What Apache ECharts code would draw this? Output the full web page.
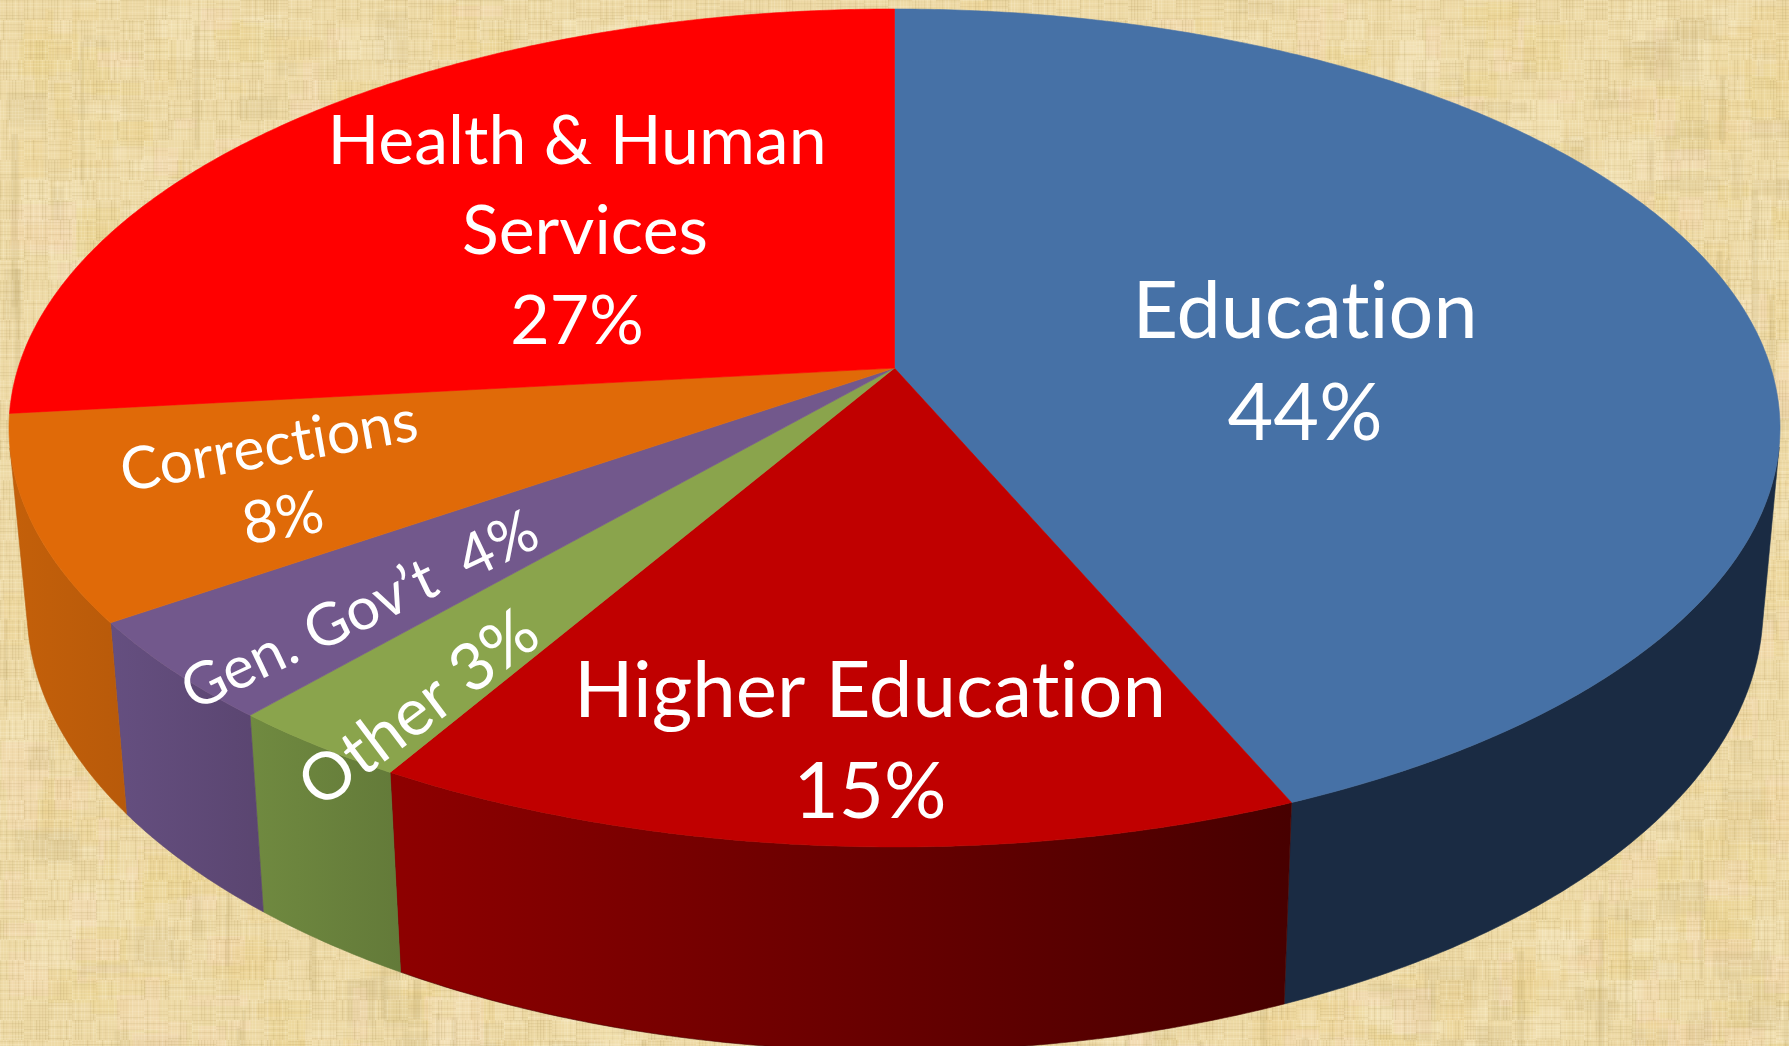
<!DOCTYPE html>
<html>
<head>
<meta charset="utf-8">
<style>html,body{margin:0;padding:0;background:#e8d5a0;overflow:hidden}#chart{width:1789px;height:1046px}</style>
<script src="https://cdn.jsdelivr.net/npm/echarts@6/dist/echarts.min.js"></script>
</head>
<body>
<div id="chart"></div>
<script>
// ---- data (the printed percentages total 101) ----
const categories = ['Education', 'Higher Education', 'Other', 'Gen. Gov\u2019t', 'Corrections', 'Health & Human Services'];
const shares = [44, 15, 3, 4, 8, 27];
const labelLines = [
  ['Education', '44%'],
  ['Higher Education', '15%'],
  ['Other 3%'],
  ['Gen. Gov\u2019t  4%'],
  ['Corrections', '8%'],
  ['Health & Human', 'Services', '27%']
];

// ---- styles ----
const topColors = ['#4671a6', '#c00000', '#8aa44c', '#72588c', '#e06a08', '#ff0000'];
const wallColors = [
  ['#1a2b43', '#1a2b43'], ['#8e0000', '#470000'], ['#708a40', '#637a39'],
  ['#654f80', '#5a4570'], ['#c4600a', '#b85a0a'], ['#b00000', '#b00000']
];
// text blocks: one entry per line [x, y], font size, rotation in degrees
const labelLayout = [
  { size: 79, rot: 0,   at: [[1305, 313], [1305, 415]] },
  { size: 78, rot: 0,   at: [[870, 692], [870, 793]] },
  { size: 66, rot: 37,  at: [[419, 709]] },
  { size: 59, rot: 25.5, at: [[360, 611]] },
  { size: 59, rot: 10,  at: [[269, 447], [283, 519]] },
  { size: 68, rot: 0,   at: [[577, 142], [585, 232], [577, 322]] }
];
// projected disc geometry
const topDisc = { cx: 894.5, cy: 428, a: 885.5, b: 419 };
const baseDisc = { cx: 895, cy: 608, a: 868, b: 443 };
const tilt = 0.143; // how far perspective moves the pie centre from the ellipse centre

const total = shares.reduce((s, v) => s + v, 0);
const edges = [0];
shares.forEach((v, i) => edges.push(edges[i] + v / total));

function rim(frac, disc) {
  const t = frac * 2 * Math.PI;
  const u = Math.sin(t), v = -Math.cos(t), d = 1 - tilt * v;
  return [disc.cx + disc.a * u * Math.sqrt(1 - tilt * tilt) / d,
          disc.cy + disc.b * (v - tilt) / d];
}
const apex = [topDisc.cx, topDisc.cy - tilt * topDisc.b];

// the part of the rim whose outer wall faces the viewer
function facing(f) {
  const e = 1e-4, p = rim(f, topDisc), q = rim(f, baseDisc);
  const a = rim(f - e, topDisc), b = rim(f + e, topDisc);
  return (q[0] - p[0]) * (b[1] - a[1]) - (q[1] - p[1]) * (b[0] - a[0]) > 0;
}
let wallFrom = 0, wallTo = 1;
for (let f = 0.001; f < 0.5; f += 0.0002) { if (facing(f)) { wallFrom = f; break; } }
for (let f = 0.999; f > 0.5; f -= 0.0002) { if (facing(f)) { wallTo = f; break; } }

function arc(from, to, disc) {
  const n = Math.max(2, Math.ceil((to - from) * 720)), pts = [];
  for (let i = 0; i <= n; i++) pts.push(rim(from + (to - from) * i / n, disc));
  return pts;
}

function renderWall(params) {
  const i = params.dataIndex;
  const from = Math.max(edges[i], wallFrom), to = Math.min(edges[i + 1], wallTo);
  if (to <= from) return null;
  return {
    type: 'polygon',
    shape: { points: arc(from, to, topDisc).concat(arc(from, to, baseDisc).reverse()) },
    style: {
      fill: { type: 'linear', x: 0, y: 0, x2: 1, y2: 0, colorStops: [
        { offset: 0, color: wallColors[i][0] }, { offset: 1, color: wallColors[i][1] }] },
      stroke: wallColors[i][1], lineWidth: 0.6
    }
  };
}
function renderTop(params) {
  const i = params.dataIndex;
  return {
    type: 'polygon',
    shape: { points: [apex].concat(arc(edges[i], edges[i + 1], topDisc)) },
    style: { fill: topColors[i], stroke: topColors[i], lineWidth: 0.6 }
  };
}
function renderLabel(params) {
  const i = params.dataIndex, lay = labelLayout[i];
  return {
    type: 'group',
    children: labelLines[i].map((line, j) => ({
      type: 'text',
      x: lay.at[j][0], y: lay.at[j][1],
      rotation: lay.rot * Math.PI / 180,
      style: { text: line, fill: '#ffffff', align: 'center', verticalAlign: 'middle',
               font: lay.size + 'px Lato, "Open Sans", sans-serif' }
    }))
  };
}

// ---- woven tan paper background (deterministic hash, decoration only) ----
function hash(a, b) { const s = Math.sin(a * 12.9898 + b * 78.233) * 43758.5453; return s - Math.floor(s); }
function paper(w, h) {
  const c = document.createElement('canvas'); c.width = w; c.height = h;
  const g = c.getContext('2d');
  g.fillStyle = '#eedaa6'; g.fillRect(0, 0, w, h);
  const tints = ['rgba(244,218,180,.45)', 'rgba(234,212,146,.4)', 'rgba(222,200,150,.35)', 'rgba(244,228,186,.45)', 'rgba(238,212,150,.4)'];
  for (let k = 0; k < 1800; k++) {
    const x = hash(k, 1) * w, y = hash(k, 2) * h, pw = 10 + hash(k, 3) * 50, ph = 10 + hash(k, 4) * 45;
    g.fillStyle = tints[Math.floor(hash(k, 5) * tints.length)];
    g.fillRect(x, y, pw, ph);
  }
  for (let x = 0; x < w; x += 3) {
    for (let y = 0; y < h; y += 20) {
      const r = hash(Math.floor(x / 3), Math.floor(y / 20) + 7);
      g.fillStyle = r > 0.5 ? 'rgba(175,150,90,' + (0.03 + (r - 0.5) * 0.36) + ')' : 'rgba(255,248,225,' + (0.06 + r * 0.34) + ')';
      g.fillRect(x, y, 1.2, 20);
    }
  }
  for (let y = 0; y < h; y += 3) {
    for (let x = 0; x < w; x += 24) {
      const r = hash(Math.floor(y / 3) + 31, Math.floor(x / 24));
      g.fillStyle = r > 0.5 ? 'rgba(175,150,90,' + (0.03 + (r - 0.5) * 0.3) + ')' : 'rgba(255,248,225,' + (0.05 + r * 0.3) + ')';
      g.fillRect(x, y, 24, 1.2);
    }
  }
  for (let k = 0; k < 90; k++) {
    const x = hash(k, 11) * w, y = hash(k, 12) * h, len = 50 + hash(k, 13) * 150;
    g.fillStyle = 'rgba(170,148,85,.13)';
    g.fillRect(x, y, 3 + hash(k, 14) * 5, len);
  }
  return c;
}

// the reference has separate letters ("ti"): a tiny letter spacing switches off the font's ligatures
const drawText = CanvasRenderingContext2D.prototype.fillText;
CanvasRenderingContext2D.prototype.fillText = function (...args) {
  this.letterSpacing = '0.01px';
  return drawText.apply(this, args);
};

const rows = categories.map((name, i) => ({ name, value: shares[i] }));
const custom = (renderItem, z) => ({
  type: 'custom', coordinateSystem: 'none', renderItem, data: rows, z, silent: true, animation: false
});
const chart = echarts.init(document.getElementById('chart'), null, { renderer: 'canvas', width: 1789, height: 1046 });
chart.setOption({
  animation: false,
  backgroundColor: { image: paper(1789, 1046), repeat: 'no-repeat' },
  series: [custom(renderWall, 1), custom(renderTop, 2), custom(renderLabel, 3)]
});
</script>
</body>
</html>
